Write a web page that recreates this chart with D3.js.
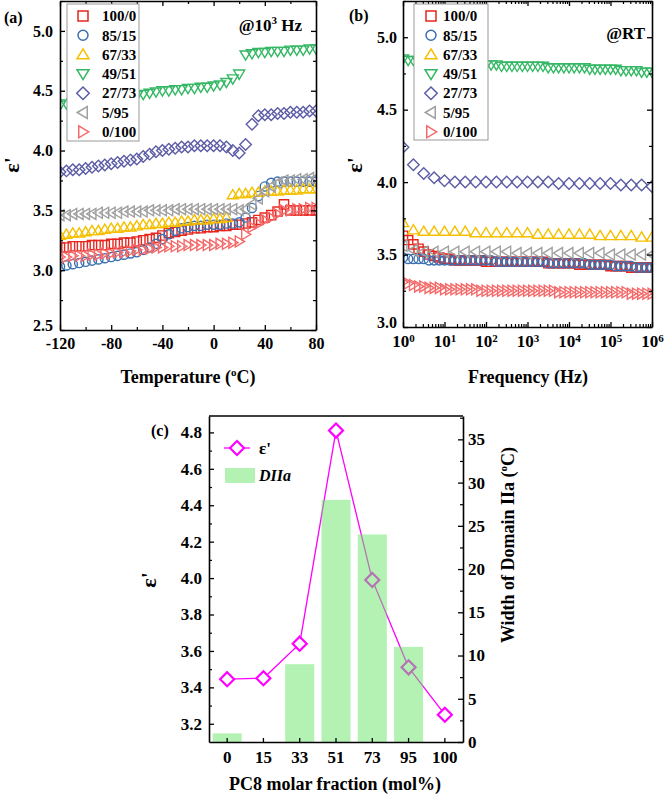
<!DOCTYPE html>
<html>
<head>
<meta charset="utf-8">
<script src="https://cdn.jsdelivr.net/npm/d3@7"></script>
<style>
  body { margin: 0; background: #fff; }
  text { font-family: "Liberation Serif", "Times New Roman", serif; font-weight: bold; }
</style>
</head>
<body>
<svg id="fig" width="666" height="799"></svg>
<script>
// ---- data ----
const names = ["100/0", "85/15", "67/33", "49/51", "27/73", "5/95", "0/100"];
const colors = ["#e8261e", "#3a6fb0", "#f5c000", "#35b865", "#5c5ca6", "#a0a0a0", "#f46a6a"];
const shapes = ["square", "circle", "up", "down", "diamond", "left", "right"];

// (a) epsilon' vs temperature at 10^3 Hz
const tempC = [-120,-115,-110,-105,-100,-95,-90,-85,-80,-75,-70,-65,-60,-55,-50,-45,-40,-35,-30,-25,-20,-15,-10,-5,0,5,10,15,20,25,30,35,40,45,50,55,60,65,70,75,80];
const a100_0 = [3.19,3.19,3.20,3.20,3.20,3.21,3.21,3.21,3.22,3.22,3.23,3.23,3.24,3.25,3.26,3.27,3.29,3.31,3.32,3.33,3.34,3.35,3.35,3.36,3.36,3.37,3.37,3.38,3.38,3.39,3.40,3.42,3.44,3.46,3.49,3.55,3.50,3.50,3.50,3.50,3.50];
const a85_15 = [3.03,3.04,3.05,3.06,3.07,3.08,3.09,3.10,3.11,3.12,3.13,3.14,3.15,3.17,3.19,3.22,3.26,3.30,3.33,3.35,3.36,3.37,3.37,3.38,3.38,3.38,3.39,3.39,3.40,3.44,3.52,3.62,3.70,3.73,3.74,3.74,3.74,3.74,3.74,3.74,3.74];
const a67_33 = [3.29,3.30,3.31,3.31,3.32,3.33,3.33,3.34,3.35,3.35,3.36,3.36,3.37,3.38,3.38,3.39,3.39,3.40,3.40,3.41,3.41,3.42,3.42,3.42,3.43,3.43,3.44,3.63,3.64,3.64,3.65,3.65,3.66,3.66,3.66,3.67,3.67,3.67,3.68,3.68,3.68];
const a49_51 = [4.38,4.39,4.40,4.41,4.42,4.42,4.43,4.43,4.44,4.44,4.45,4.45,4.46,4.47,4.48,4.49,4.50,4.50,4.51,4.51,4.52,4.52,4.53,4.53,4.54,4.55,4.57,4.60,4.64,4.80,4.81,4.82,4.82,4.83,4.83,4.83,4.84,4.84,4.84,4.85,4.85];
const a27_73 = [3.82,3.83,3.84,3.84,3.85,3.86,3.87,3.88,3.89,3.90,3.91,3.92,3.93,3.95,3.97,3.99,4.00,4.01,4.02,4.03,4.03,4.04,4.04,4.04,4.04,4.04,4.03,4.00,3.98,4.05,4.22,4.29,4.30,4.30,4.31,4.31,4.32,4.32,4.32,4.33,4.33];
const a5_95  = [3.46,3.46,3.47,3.47,3.47,3.47,3.48,3.48,3.48,3.48,3.49,3.49,3.49,3.49,3.50,3.50,3.50,3.50,3.51,3.51,3.51,3.51,3.51,3.51,3.51,3.51,3.51,3.51,3.50,3.51,3.55,3.60,3.66,3.70,3.73,3.75,3.75,3.76,3.76,3.77,3.77];
const a0_100 = [3.11,3.11,3.12,3.12,3.12,3.13,3.13,3.14,3.14,3.15,3.15,3.16,3.17,3.17,3.18,3.19,3.19,3.20,3.20,3.20,3.21,3.21,3.21,3.21,3.21,3.22,3.22,3.23,3.24,3.30,3.36,3.39,3.42,3.44,3.47,3.50,3.50,3.51,3.51,3.52,3.52];

// (b) epsilon' vs frequency at room temperature
const freqCoarse = [1,1.78,3.16,5.62,10,17.8,31.6,56.2,100,178,316,562,1000,1780,3160,5620,10000,17800,31600,56200,100000,178000,316000,562000,1000000];
const freqDense = [1,1.33,1.78,2.37,3.16,4.22,5.62,7.5,10,13.3,17.8,23.7,31.6,42.2,56.2,75,100,133,178,237,316,422,562,750,1000,1330,1780,2370,3160,4220,5620,7500,10000,13300,17800,23700,31600,42200,56200,75000,100000,133000,178000,237000,316000,422000,562000,750000,1000000];
const b100_0 = [3.63,3.60,3.57,3.54,3.52,3.50,3.49,3.48,3.47,3.47,3.46,3.46,3.46,3.46,3.46,3.46,3.45,3.45,3.45,3.45,3.45,3.45,3.45,3.45,3.45,3.45,3.45,3.45,3.44,3.44,3.44,3.44,3.44,3.44,3.43,3.43,3.43,3.43,3.43,3.43,3.42,3.42,3.42,3.42,3.41,3.41,3.41,3.41,3.41];
const b85_15 = [3.48,3.47,3.47,3.47,3.47,3.46,3.46,3.46,3.46,3.46,3.46,3.46,3.46,3.46,3.46,3.46,3.46,3.46,3.45,3.45,3.45,3.45,3.45,3.45,3.45,3.45,3.45,3.45,3.44,3.44,3.44,3.44,3.44,3.44,3.44,3.44,3.43,3.43,3.43,3.43,3.43,3.42,3.42,3.42,3.42,3.41,3.41,3.41,3.41];
const b67_33 = [3.72,3.67,3.66,3.66,3.66,3.66,3.66,3.65,3.65,3.65,3.65,3.65,3.65,3.64,3.64,3.64,3.64,3.64,3.64,3.63,3.63,3.63,3.63,3.62,3.62];
const b49_51 = [4.85,4.84,4.84,4.83,4.83,4.83,4.82,4.82,4.82,4.82,4.82,4.81,4.81,4.81,4.81,4.81,4.81,4.81,4.81,4.80,4.80,4.80,4.80,4.80,4.80,4.80,4.80,4.80,4.79,4.79,4.79,4.79,4.79,4.79,4.79,4.79,4.78,4.78,4.78,4.78,4.78,4.78,4.77,4.77,4.77,4.77,4.76,4.76,4.76];
const b27_73 = [4.24,4.12,4.06,4.03,4.01,4.00,4.00,4.00,4.00,4.00,4.00,4.00,4.00,4.00,4.00,3.99,3.99,3.99,3.99,3.99,3.99,3.98,3.98,3.98,3.97];
const b5_95  = [3.56,3.53,3.52,3.52,3.52,3.52,3.52,3.52,3.52,3.52,3.52,3.51,3.51,3.51,3.51,3.51,3.51,3.51,3.51,3.51,3.50,3.50,3.50,3.50,3.50];
const b0_100 = [3.31,3.30,3.29,3.28,3.28,3.27,3.27,3.27,3.26,3.26,3.26,3.26,3.26,3.26,3.26,3.25,3.25,3.25,3.25,3.25,3.25,3.25,3.25,3.25,3.25,3.25,3.25,3.25,3.25,3.25,3.24,3.24,3.24,3.24,3.24,3.24,3.24,3.24,3.24,3.24,3.24,3.24,3.24,3.24,3.23,3.23,3.23,3.23,3.23];

// (c) epsilon' and width of domain IIa vs PC8 fraction
const pc8 = ["0", "15", "33", "51", "73", "95", "100"];
const epsC = [3.445, 3.45, 3.64, 4.81, 3.99, 3.51, 3.25];
const dIIa = [1, 0, 9, 28, 24, 11, 0];

// tick values
const aXTicks = [-120, -80, -40, 0, 40, 80];
const aXMinor = [-100, -60, -20, 20, 60];
const aYTicks = [2.5, 3.0, 3.5, 4.0, 4.5, 5.0];
const aYMinor = [2.75, 3.25, 3.75, 4.25, 4.75, 5.25];
const bXTicks = [1, 10, 100, 1000, 10000, 100000, 1000000];
const bYTicks = [3.0, 3.5, 4.0, 4.5, 5.0];
const bYMinor = [3.25, 3.75, 4.25, 4.75, 5.25];
const cYTicks = [3.2, 3.4, 3.6, 3.8, 4.0, 4.2, 4.4, 4.6, 4.8];
const cYMinor = [3.3, 3.5, 3.7, 3.9, 4.1, 4.3, 4.5, 4.7];
const cRTicks = [0, 5, 10, 15, 20, 25, 30, 35];
const cRMinor = [2.5, 7.5, 12.5, 17.5, 22.5, 27.5, 32.5, 37.5];

// ---- helpers ----
function markerPath(kind, r) {
  switch (kind) {
    case "square": return `M${-r},${-r}H${r}V${r}H${-r}Z`;
    case "circle": return `M${r},0A${r},${r} 0 1,1 ${-r},0A${r},${r} 0 1,1 ${r},0Z`;
    case "up": return `M0,${-r*1.15}L${r*1.2},${r*0.85}L${-r*1.2},${r*0.85}Z`;
    case "down": return `M0,${r*1.15}L${r*1.2},${-r*0.85}L${-r*1.2},${-r*0.85}Z`;
    case "diamond": return `M0,${-r*1.25}L${r*1.25},0L0,${r*1.25}L${-r*1.25},0Z`;
    case "left": return `M${-r*1.15},0L${r*0.85},${-r*1.2}L${r*0.85},${r*1.2}Z`;
    case "right": return `M${r*1.15},0L${-r*0.85},${-r*1.2}L${-r*0.85},${r*1.2}Z`;
  }
}

function styleAxis(g, size) {
  g.attr("font-family", "Liberation Serif").attr("font-size", size).attr("font-weight", "bold");
  g.selectAll(".domain").attr("stroke", "#000").attr("stroke-width", 1.6);
  g.selectAll(".tick line").attr("stroke", "#000").attr("stroke-width", 1.3);
}

function drawAxis(parent, axis, tx, ty, size) {
  const g = parent.append("g").attr("transform", `translate(${tx},${ty})`).call(axis);
  styleAxis(g, size || 16);
  return g;
}

function minorAxis(parent, axis, tx, ty) {
  const g = parent.append("g").attr("transform", `translate(${tx},${ty})`).call(axis.tickFormat("").tickSize(-3));
  g.select(".domain").remove();
  g.selectAll(".tick line").attr("stroke", "#000").attr("stroke-width", 1.2);
  return g;
}

function legendBox(parent, x, y, w, h, symX, textX, symR) {
  const lg = parent.append("g");
  lg.append("rect").attr("x", x).attr("y", y).attr("width", w).attr("height", h)
    .attr("fill", "#fff").attr("stroke", "#999").attr("stroke-width", 1);
  names.forEach((n, i) => {
    const yy = y + 12 + i * 19.3;
    lg.append("path").attr("d", markerPath(shapes[i], symR))
      .attr("transform", `translate(${symX},${yy})`)
      .attr("fill", "none").attr("stroke", colors[i]).attr("stroke-width", 1.5);
    lg.append("text").attr("x", textX).attr("y", yy).attr("dy", "0.35em")
      .attr("font-size", 15).text(n);
  });
}

const svg = d3.select("#fig");

// ================= panel (a) =================
const xA = d3.scaleLinear().domain([-120, 80]).range([60, 316]);
const yA = d3.scaleLinear().domain([2.5, 5.25]).range([330, 1]);
const gA = svg.append("g");

const aSeries = [a100_0, a85_15, a67_33, a49_51, a27_73, a5_95, a0_100];
gA.append("clipPath").attr("id", "clipA").append("rect")
  .attr("x", 60).attr("y", 1).attr("width", 256).attr("height", 329);
const plotA = gA.append("g").attr("clip-path", "url(#clipA)");
aSeries.forEach((vals, si) => {
  plotA.append("g").selectAll("path")
    .data(vals.map((v, i) => [tempC[i], v]))
    .join("path")
    .attr("d", markerPath(shapes[si], 4.6))
    .attr("transform", d => `translate(${xA(d[0])},${yA(d[1])})`)
    .attr("fill", "none").attr("stroke", colors[si]).attr("stroke-width", 1.4);
});

drawAxis(gA, d3.axisBottom(xA).tickValues(aXTicks).tickSize(-5).tickSizeOuter(0).tickPadding(8).tickFormat(d => String(d)), 0, 330);
minorAxis(gA, d3.axisBottom(xA).tickValues(aXMinor), 0, 330);
drawAxis(gA, d3.axisTop(xA).tickValues(aXTicks).tickSize(-5).tickSizeOuter(0).tickFormat(""), 0, 1);
minorAxis(gA, d3.axisTop(xA).tickValues(aXMinor), 0, 1);
const ayA = drawAxis(gA, d3.axisLeft(yA).tickValues(aYTicks).tickSize(-5).tickSizeOuter(0).tickPadding(7).tickFormat(d3.format(".1f")), 60, 0);
ayA.selectAll(".tick text").filter(d => d === 2.5).attr("dy", "0.05em");
minorAxis(gA, d3.axisLeft(yA).tickValues(aYMinor), 60, 0);
drawAxis(gA, d3.axisRight(yA).tickValues(aYTicks).tickSize(-5).tickSizeOuter(0).tickFormat(""), 316, 0);
minorAxis(gA, d3.axisRight(yA).tickValues(aYMinor), 316, 0);

legendBox(gA, 67, 4, 72, 137, 83, 102, 5);

const tA = gA.append("text").attr("x", 302).attr("y", 31).attr("text-anchor", "end").attr("font-size", 17);
tA.append("tspan").text("@10");
tA.append("tspan").attr("dy", -7).attr("font-size", 11).text("3");
tA.append("tspan").attr("dy", 7).text(" Hz");

gA.append("text").attr("x", 4).attr("y", 23).attr("font-size", 16).text("(a)");
gA.append("text").attr("transform", "translate(19,165) rotate(-90)").attr("text-anchor", "middle")
  .attr("font-size", 22).text("ε'");
const xtA = gA.append("text").attr("x", 188).attr("y", 383).attr("text-anchor", "middle").attr("font-size", 18);
xtA.append("tspan").text("Temperature (");
xtA.append("tspan").attr("dy", -7).attr("font-size", 11).text("o");
xtA.append("tspan").attr("dy", 7).text("C)");

// ================= panel (b) =================
const xB = d3.scaleLog().domain([1, 1e6]).range([403, 652]);
const yB = d3.scaleLinear().domain([3.0, 5.25]).range([327, 1]);
const gB = svg.append("g");

const bSeries = [
  [freqDense, b100_0], [freqDense, b85_15], [freqCoarse, b67_33], [freqDense, b49_51],
  [freqCoarse, b27_73], [freqCoarse, b5_95], [freqDense, b0_100]
];
gB.append("clipPath").attr("id", "clipB").append("rect")
  .attr("x", 403).attr("y", 1).attr("width", 249).attr("height", 326);
const plotB = gB.append("g").attr("clip-path", "url(#clipB)");
bSeries.forEach(([fx, vals], si) => {
  plotB.append("g").selectAll("path")
    .data(vals.map((v, i) => [fx[i], v]))
    .join("path")
    .attr("d", markerPath(shapes[si], 4.6))
    .attr("transform", d => `translate(${xB(d[0])},${yB(d[1])})`)
    .attr("fill", "none").attr("stroke", colors[si]).attr("stroke-width", 1.4);
});

const bMinor = xB.ticks().filter(t => !bXTicks.includes(t));
const bx = drawAxis(gB, d3.axisBottom(xB).tickValues(bXTicks).tickSize(-5).tickSizeOuter(0).tickPadding(8).tickFormat(""), 0, 327);
bx.selectAll(".tick text").each(function (d) {
  const t = d3.select(this).attr("font-size", 17);
  t.append("tspan").text("10");
  t.append("tspan").attr("dy", "-0.45em").attr("font-size", 11).text(Math.round(Math.log10(d)));
});
minorAxis(gB, d3.axisBottom(xB).tickValues(bMinor), 0, 327);
drawAxis(gB, d3.axisTop(xB).tickValues(bXTicks).tickSize(-5).tickSizeOuter(0).tickFormat(""), 0, 1);
minorAxis(gB, d3.axisTop(xB).tickValues(bMinor), 0, 1);
const ayB = drawAxis(gB, d3.axisLeft(yB).tickValues(bYTicks).tickSize(-5).tickSizeOuter(0).tickPadding(6).tickFormat(d3.format(".1f")), 403, 0);
ayB.selectAll(".tick text").filter(d => d === 3.0).attr("dy", "0.05em");
minorAxis(gB, d3.axisLeft(yB).tickValues(bYMinor), 403, 0);
drawAxis(gB, d3.axisRight(yB).tickValues(bYTicks).tickSize(-5).tickSizeOuter(0).tickFormat(""), 652, 0);
minorAxis(gB, d3.axisRight(yB).tickValues(bYMinor), 652, 0);

legendBox(gB, 414, 4, 74, 136, 431, 443, 5);

gB.append("text").attr("x", 645).attr("y", 39).attr("text-anchor", "end").attr("font-size", 17).text("@RT");
gB.append("text").attr("x", 349).attr("y", 21).attr("font-size", 16).text("(b)");
gB.append("text").attr("transform", "translate(362,165) rotate(-90)").attr("text-anchor", "middle")
  .attr("font-size", 22).text("ε'");
gB.append("text").attr("x", 528).attr("y", 383).attr("text-anchor", "middle").attr("font-size", 18).text("Frequency (Hz)");

// ================= panel (c) =================
const xC = d3.scaleBand().domain(pc8).range([209, 463]).paddingInner(0.2).paddingOuter(0.1);
const yCL = d3.scaleLinear().domain([3.1, 4.89]).range([742, 416]);
const yCR = d3.scaleLinear().domain([0, 37.7]).range([742, 416]);
const gC = svg.append("g");
const cx = d => xC(d) + xC.bandwidth() / 2;
const magenta = "#ff00ff";
const barFill = "rgb(105,229,105)";

gC.append("path")
  .attr("d", d3.line().x((d, i) => cx(pc8[i])).y(d => yCL(d))(epsC))
  .attr("fill", "none").attr("stroke", magenta).attr("stroke-width", 1.3);
gC.append("g").selectAll("path").data(epsC).join("path")
  .attr("d", markerPath("diamond", 5.6))
  .attr("transform", (d, i) => `translate(${cx(pc8[i])},${yCL(d)})`)
  .attr("fill", "#fff").attr("stroke", magenta).attr("stroke-width", 2.2);

gC.append("g").selectAll("rect").data(dIIa).join("rect")
  .attr("x", (d, i) => xC(pc8[i]))
  .attr("width", xC.bandwidth())
  .attr("y", d => yCR(d))
  .attr("height", d => 742 - yCR(d))
  .attr("fill", barFill).attr("fill-opacity", 0.5);

gC.append("line").attr("x1", 209).attr("x2", 463).attr("y1", 416).attr("y2", 416)
  .attr("stroke", "#000").attr("stroke-width", 1.6);
drawAxis(gC, d3.axisBottom(xC).tickSize(-4).tickSizeOuter(0).tickPadding(9), 0, 742, 17);
drawAxis(gC, d3.axisLeft(yCL).tickValues(cYTicks).tickSize(-5).tickSizeOuter(0).tickPadding(7).tickFormat(d3.format(".1f")), 209, 0, 17);
minorAxis(gC, d3.axisLeft(yCL).tickValues(cYMinor), 209, 0);
drawAxis(gC, d3.axisRight(yCR).tickValues(cRTicks).tickSize(-5).tickSizeOuter(0).tickPadding(5), 463, 0, 17);
minorAxis(gC, d3.axisRight(yCR).tickValues(cRMinor), 463, 0);

// legend (c)
gC.append("line").attr("x1", 224).attr("x2", 250).attr("y1", 448).attr("y2", 448)
  .attr("stroke", magenta).attr("stroke-width", 1.3);
gC.append("path").attr("d", markerPath("diamond", 5.6)).attr("transform", "translate(237,448)")
  .attr("fill", "#fff").attr("stroke", magenta).attr("stroke-width", 2.2);
gC.append("text").attr("x", 259).attr("y", 454).attr("font-size", 17).attr("font-weight", "normal").text("ε'");
gC.append("rect").attr("x", 225).attr("y", 468).attr("width", 30).attr("height", 15)
  .attr("fill", barFill).attr("fill-opacity", 0.5);
gC.append("text").attr("x", 259).attr("y", 481).attr("font-size", 16).attr("font-style", "italic").text("DIIa");

gC.append("text").attr("x", 151).attr("y", 436).attr("font-size", 16).text("(c)");
gC.append("text").attr("transform", "translate(156,580) rotate(-90)").attr("text-anchor", "middle")
  .attr("font-size", 22).text("ε'");
const rtC = gC.append("text").attr("transform", "translate(514,545) rotate(-90)").attr("text-anchor", "middle").attr("font-size", 18);
rtC.append("tspan").text("Width of Domain IIa (");
rtC.append("tspan").attr("dy", -7).attr("font-size", 11).text("o");
rtC.append("tspan").attr("dy", 7).text("C)");
gC.append("text").attr("x", 335).attr("y", 790).attr("text-anchor", "middle").attr("font-size", 18)
  .text("PC8 molar fraction (mol%)");
</script>
</body>
</html>
